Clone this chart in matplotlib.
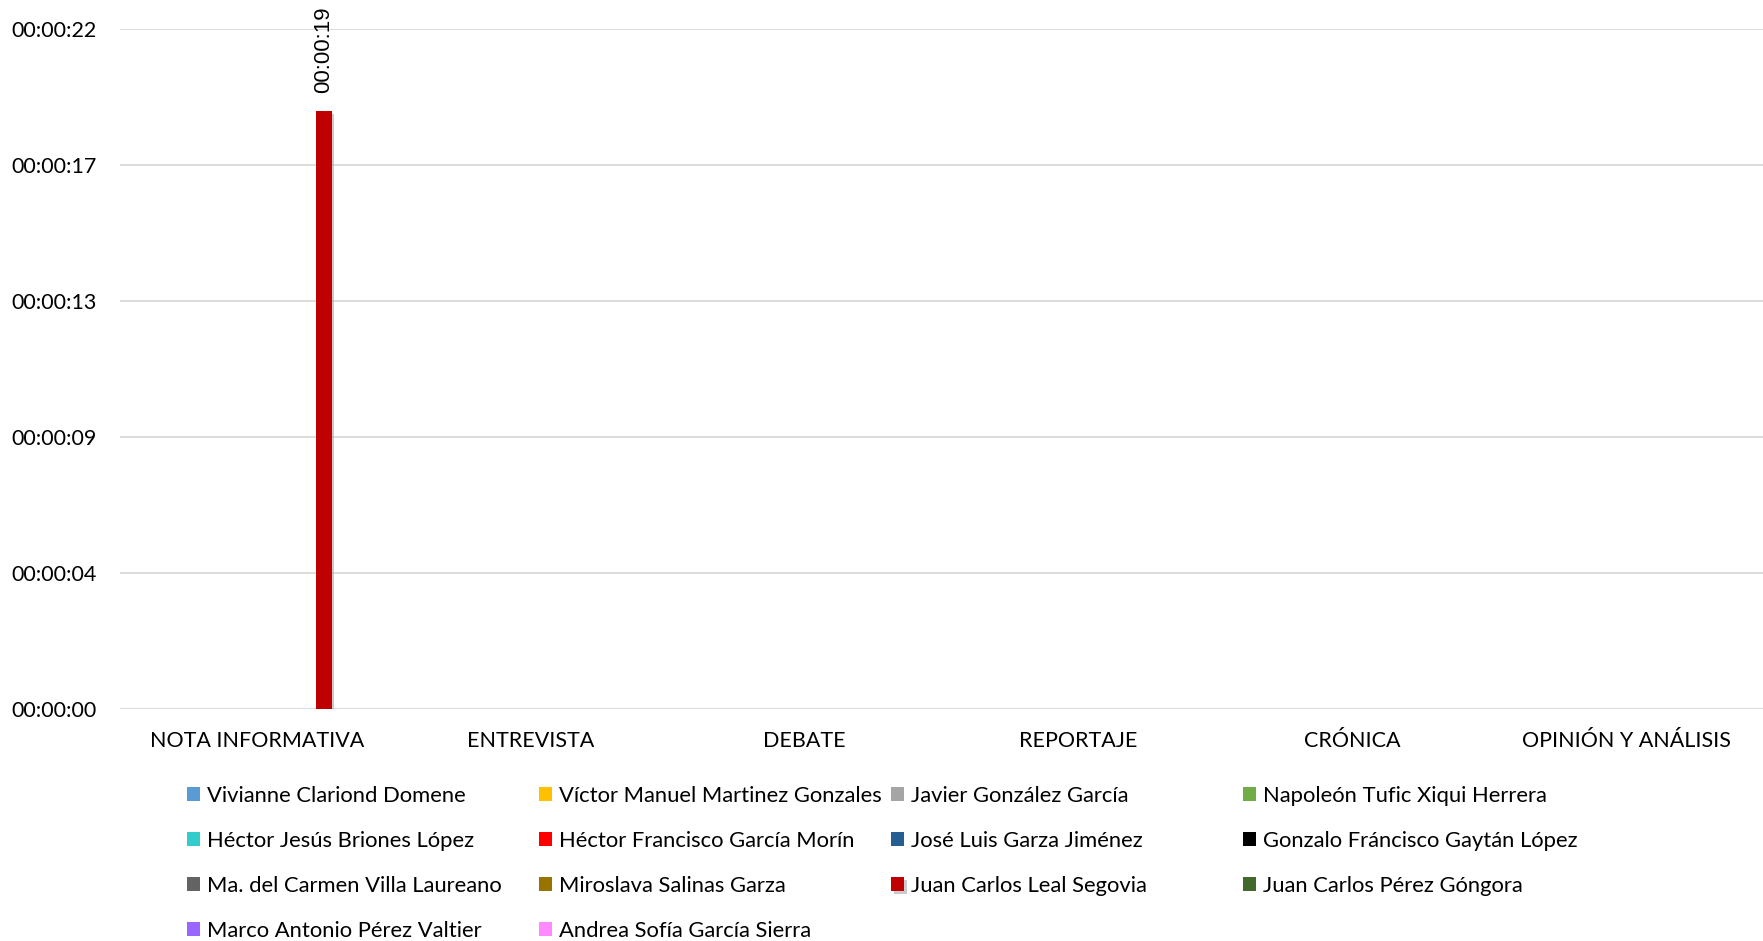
import numpy as np
import matplotlib
matplotlib.use("Agg")
import matplotlib.pyplot as plt
import matplotlib.patheffects as pe

plt.rcParams["font.family"] = ["Lato", "DejaVu Sans"]

categories = ["NOTA INFORMATIVA", "ENTREVISTA", "DEBATE", "REPORTAJE", "CRÓNICA", "OPINIÓN Y ANÁLISIS"]

names = [
    "Vivianne Clariond Domene",
    "Víctor Manuel Martinez Gonzales",
    "Javier González García",
    "Napoleón Tufic Xiqui Herrera",
    "Héctor Jesús Briones López",
    "Héctor Francisco García Morín",
    "José Luis Garza Jiménez",
    "Gonzalo Fráncisco Gaytán López",
    "Ma. del Carmen Villa Laureano",
    "Miroslava Salinas Garza",
    "Juan Carlos Leal Segovia",
    "Juan Carlos Pérez Góngora",
    "Marco Antonio Pérez Valtier",
    "Andrea Sofía García Sierra",
]

colors = ["#5B9BD5", "#FFC000", "#A5A5A5", "#70AD47", "#33CCCC", "#FF0000", "#255E91",
          "#000000", "#636363", "#997300", "#C00000", "#43682B", "#9966FF", "#FF8AFF"]

# seconds per category, one list per person
seconds = [
    [0, 0, 0, 0, 0, 0],
    [0, 0, 0, 0, 0, 0],
    [0, 0, 0, 0, 0, 0],
    [0, 0, 0, 0, 0, 0],
    [0, 0, 0, 0, 0, 0],
    [0, 0, 0, 0, 0, 0],
    [0, 0, 0, 0, 0, 0],
    [0, 0, 0, 0, 0, 0],
    [0, 0, 0, 0, 0, 0],
    [0, 0, 0, 0, 0, 0],
    [19, 0, 0, 0, 0, 0],
    [0, 0, 0, 0, 0, 0],
    [0, 0, 0, 0, 0, 0],
    [0, 0, 0, 0, 0, 0],
]

yticks = [0, 4.32, 8.64, 12.96, 17.28, 21.6]


def hms(s):
    s = int(round(s))
    return f"{s // 3600:02d}:{(s % 3600) // 60:02d}:{s % 60:02d}"


fig = plt.figure(figsize=(17.63, 9.41), dpi=100)
ax = fig.add_axes([0.0681, 0.2465, 0.9319, 0.7227])

x = np.arange(len(categories))
n = len(names)
slot = 0.0696
width = 0.058

handles = []
for i, (name, col, vals) in enumerate(zip(names, colors, seconds)):
    pos = x + (i - (n - 1) / 2) * slot
    bars = ax.bar(pos, vals, width, color=col, label=name, linewidth=0, zorder=3)
    for b, v in zip(bars, vals):
        if v > 0:
            b.set_path_effects([pe.SimplePatchShadow(offset=(2, -2), shadow_rgbFace="#999999", alpha=0.5), pe.Normal()])
            ax.annotate(hms(v), (b.get_x() + b.get_width() / 2, v), xytext=(0, 13),
                        textcoords="offset points", rotation=90, ha="center", va="bottom",
                        fontsize=16, family=["Liberation Sans", "DejaVu Sans"])
    handles.append(bars)

ax.set_xlim(-0.5, len(categories) - 0.5)
ax.set_ylim(0, 21.6)
ax.set_yticks(yticks)
ax.set_yticklabels([hms(v) for v in yticks])
ax.set_xticks(x)
ax.set_xticklabels(categories)
ax.tick_params(axis="y", length=0, pad=17, labelsize=15.5)
ax.tick_params(axis="x", length=0, pad=15.5, labelsize=15.5)
ax.grid(axis="y", color="#D9D9D9", linewidth=1.3, zorder=0)
for sp in ax.spines.values():
    sp.set_visible(False)

# legend, 4 columns, row-major like the original
for i, (h, name) in enumerate(zip(handles, names)):
    r, c = divmod(i, 4)
    lx = (187 + 352 * c) / 1763
    ly = 1 - (796 + 45 * r) / 941
    leg = fig.legend([h], [name], loc="center left", bbox_to_anchor=(lx, ly), frameon=False,
                     fontsize=15.8, handlelength=0.6, handleheight=0.6, handletextpad=0.3,
                     borderpad=0, borderaxespad=0)

fig.savefig("out.png", dpi=100)
